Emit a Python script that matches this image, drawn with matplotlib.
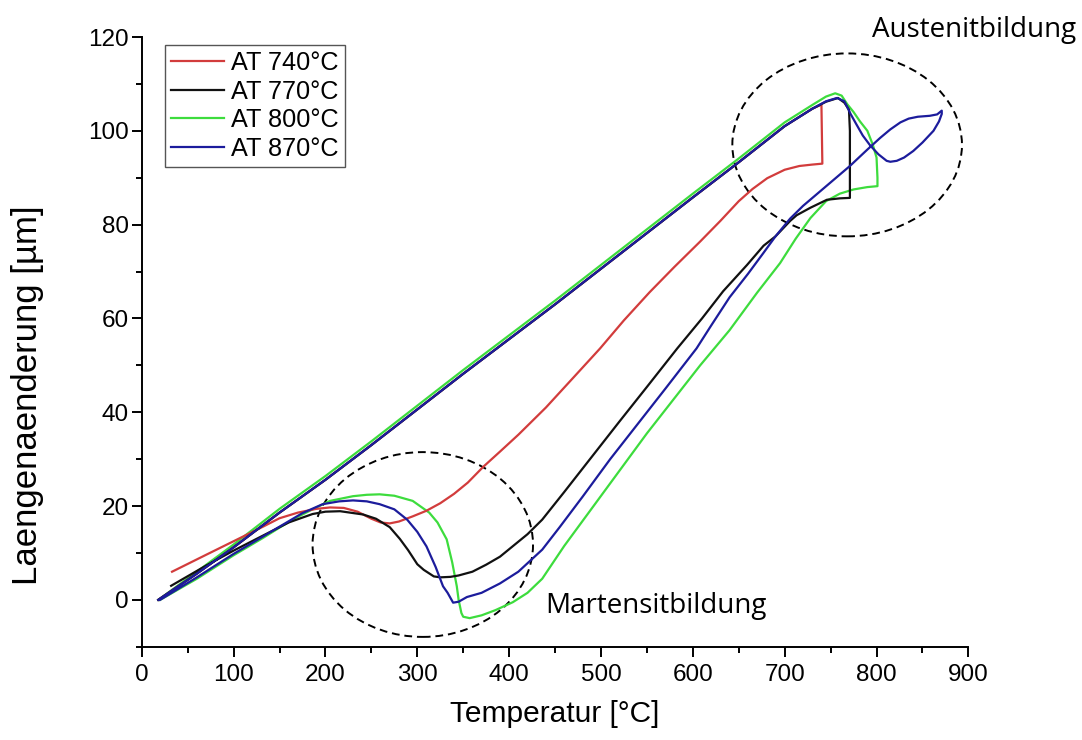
import matplotlib
matplotlib.use("Agg")
import matplotlib.pyplot as plt
from matplotlib.patches import Ellipse
from matplotlib.ticker import MultipleLocator

plt.rcParams['font.family'] = ['Liberation Sans', 'DejaVu Sans']

# ---- data ----
heat_T = [18, 60, 100, 150, 200, 250, 300, 350, 400, 450, 500, 550, 600, 650, 700, 730]
heat_L = [0, 5.6, 11.2, 18.6, 25.6, 33.0, 40.6, 48.2, 55.6, 63.0, 70.6, 78.2, 85.8, 93.3, 101.0, 104.7]

red_T = heat_T + [740, 741, 730, 716, 700, 681, 665, 650, 630, 608, 580, 553, 525, 499, 470, 440,
                  410, 390, 372, 355, 340, 325, 310, 295, 280, 270, 260, 250, 235, 220, 205, 190,
                  170, 150, 132, 100, 70, 33]
red_L = heat_L + [105.6, 93.0, 92.8, 92.5, 91.7, 89.9, 87.6, 85.0, 80.8, 76.4, 71.0, 65.6, 59.6,
                  53.6, 47.4, 41.0, 35.2, 31.6, 28.4, 25.0, 22.6, 20.6, 19.0, 17.8, 16.7, 16.3,
                  16.5, 17.3, 18.8, 19.6, 19.7, 19.4, 18.6, 17.4, 15.6, 12.5, 9.6, 6.0]

black_T = heat_T + [745, 758, 765, 770, 771, 771, 760, 746, 728, 713, 706, 690, 677, 659, 633, 610,
                    583, 550, 520, 490, 460, 436, 420, 400, 390, 375, 360, 345, 336, 325, 318, 307,
                    300, 290, 281, 270, 255, 241, 216, 200, 186, 160, 130, 100, 70, 32]
black_L = heat_L + [106.2, 107.0, 106.0, 104.5, 100.0, 85.7, 85.6, 85.3, 83.6, 82.0, 80.8, 77.5,
                    75.5, 71.4, 65.8, 60.0, 53.6, 45.4, 38.0, 30.5, 23.0, 17.1, 14.0, 10.8, 9.2,
                    7.5, 6.0, 5.2, 4.9, 4.8, 5.0, 6.4, 7.6, 10.6, 13.0, 15.5, 17.3, 18.2, 18.9,
                    18.8, 18.3, 16.5, 13.5, 10.5, 7.3, 3.0]

green_T = [18, 60, 100, 150, 200, 250, 300, 350, 400, 450, 500, 550, 600, 650, 700, 730, 745,
           755, 762, 768, 775, 782, 790, 796, 800, 801, 801, 790, 775, 760, 745, 728, 712, 695,
           670, 640, 608, 580, 550, 520, 490, 460, 436, 420, 404, 385, 370, 357, 350, 348, 345,
           343, 338, 332, 322, 313, 295, 275, 259, 245, 230, 205, 186, 168, 150, 132, 100, 60, 20]
green_L = [0, 6.0, 11.8, 19.4, 26.4, 33.8, 41.4, 49.0, 56.4, 63.8, 71.4, 79.0, 86.6, 94.1,
           101.8, 105.5, 107.3, 108.0, 107.5, 105.7, 104.0, 102.0, 100.0, 97.0, 94.3, 90.0, 88.2,
           88.0, 87.5, 86.6, 85.0, 81.4, 77.0, 71.8, 65.5, 57.5, 50.0, 43.0, 35.5, 27.5, 19.5,
           11.5, 4.5, 1.5, -0.5, -2.2, -3.3, -3.9, -3.6, -2.8, 0.0, 2.9, 8.0, 12.9, 16.5, 18.6,
           21.1, 22.2, 22.5, 22.4, 22.1, 21.1, 19.3, 17.5, 15.4, 13.2, 9.5, 4.5, 0.0]

blue_T = heat_T + [745, 757, 765, 772, 778, 785, 793, 802, 811, 815, 822, 830, 840, 850, 862, 868,
                   871, 871, 866, 858, 845, 835, 826, 815, 804, 790, 771, 750, 735, 720, 706, 690,
                   677, 660, 640, 620, 604, 570, 540, 510, 480, 455, 436, 410, 390, 370, 354, 345,
                   339, 333, 328, 320, 310, 300, 289, 275, 259, 245, 230, 215, 197, 175, 150, 132,
                   100, 60, 20]
blue_L = heat_L + [106.3, 107.0, 106.3, 103.5, 101.4, 99.0, 96.9, 95.0, 93.6, 93.4, 93.6, 94.3,
                   95.7, 97.5, 100.0, 102.0, 103.6, 104.3, 103.5, 103.2, 103.0, 102.6, 101.8,
                   100.3, 98.5, 96.0, 92.5, 89.0, 86.5, 84.0, 81.3, 77.5, 74.0, 69.5, 64.5, 58.5,
                   53.6, 45.0, 37.5, 30.0, 22.0, 15.5, 10.7, 6.0, 3.5, 1.5, 0.6, -0.4, -0.6, 1.5,
                   2.9, 7.0, 11.4, 14.5, 17.1, 19.3, 20.4, 21.0, 21.2, 21.0, 20.4, 18.5, 15.6,
                   13.5, 9.8, 4.8, 0.0]

labels = ["AT 740°C", "AT 770°C", "AT 800°C", "AT 870°C"]
colors = ["#d23c3c", "#111111", "#3ddc3d", "#1c1c9c"]

x_ticks = [0, 100, 200, 300, 400, 500, 600, 700, 800, 900]
y_ticks = [0, 20, 40, 60, 80, 100, 120]

# ---- figure ----
fig = plt.figure(figsize=(10.82, 7.4), dpi=100)
ax = fig.add_axes([0.131, 0.126, 0.764, 0.824])

series = [(red_T, red_L), (black_T, black_L), (green_T, green_L), (blue_T, blue_L)]
order = [2, 0, 1, 3]
lines = {}
for i in order:
    T, L = series[i]
    ln, = ax.plot(T, L, color=colors[i], lw=1.6, label=labels[i], solid_joinstyle='round')
    lines[i] = ln

ax.set_xlim(0, 900)
ax.set_ylim(-10, 120)
ax.set_xticks(x_ticks)
ax.set_yticks(y_ticks)
ax.xaxis.set_minor_locator(MultipleLocator(50))
ax.yaxis.set_minor_locator(MultipleLocator(10))
ax.tick_params(which='major', direction='out', length=7.5, width=1.4, labelsize=17.5)
ax.tick_params(axis='x', which='major', pad=5)
ax.tick_params(axis='y', which='major', pad=2)
ax.tick_params(which='minor', direction='out', length=4.5, width=1.4)
for s in ['top', 'right']:
    ax.spines[s].set_visible(False)
for s in ['left', 'bottom']:
    ax.spines[s].set_linewidth(1.4)

ax.set_xlabel("Temperatur [°C]", fontsize=21.5, labelpad=10)
ax.set_ylabel("Laengenaenderung [µm]", fontsize=25, va='center')
ax.yaxis.set_label_coords(-0.138, 0.413)

# dashed ellipses
ax.add_patch(Ellipse((306, 11.8), 240, 39.4, fill=False, ls=(0, (4, 2.5)), lw=1.4, color='black'))
ax.add_patch(Ellipse((768, 97), 250, 39, fill=False, ls=(0, (4, 2.5)), lw=1.4, color='black'))

ax.text(906, 121.5, "Austenitbildung", fontsize=20, family=['Open Sans', 'DejaVu Sans'],
        ha='center', va='center', clip_on=False)
ax.text(439, -1.3, "Martensitbildung", fontsize=20, family=['Open Sans', 'DejaVu Sans'],
        ha='left', va='center')

leg = ax.legend([lines[i] for i in range(4)], labels, loc='upper left',
                bbox_to_anchor=(0.028, 0.987), borderaxespad=0, fontsize=18.2,
                handlelength=2.1, handletextpad=0.25, labelspacing=0.18, borderpad=0.25,
                fancybox=False, framealpha=1)
leg.get_frame().set_edgecolor('#555555')
leg.get_frame().set_linewidth(1.0)

fig.savefig("out.png", dpi=100)
